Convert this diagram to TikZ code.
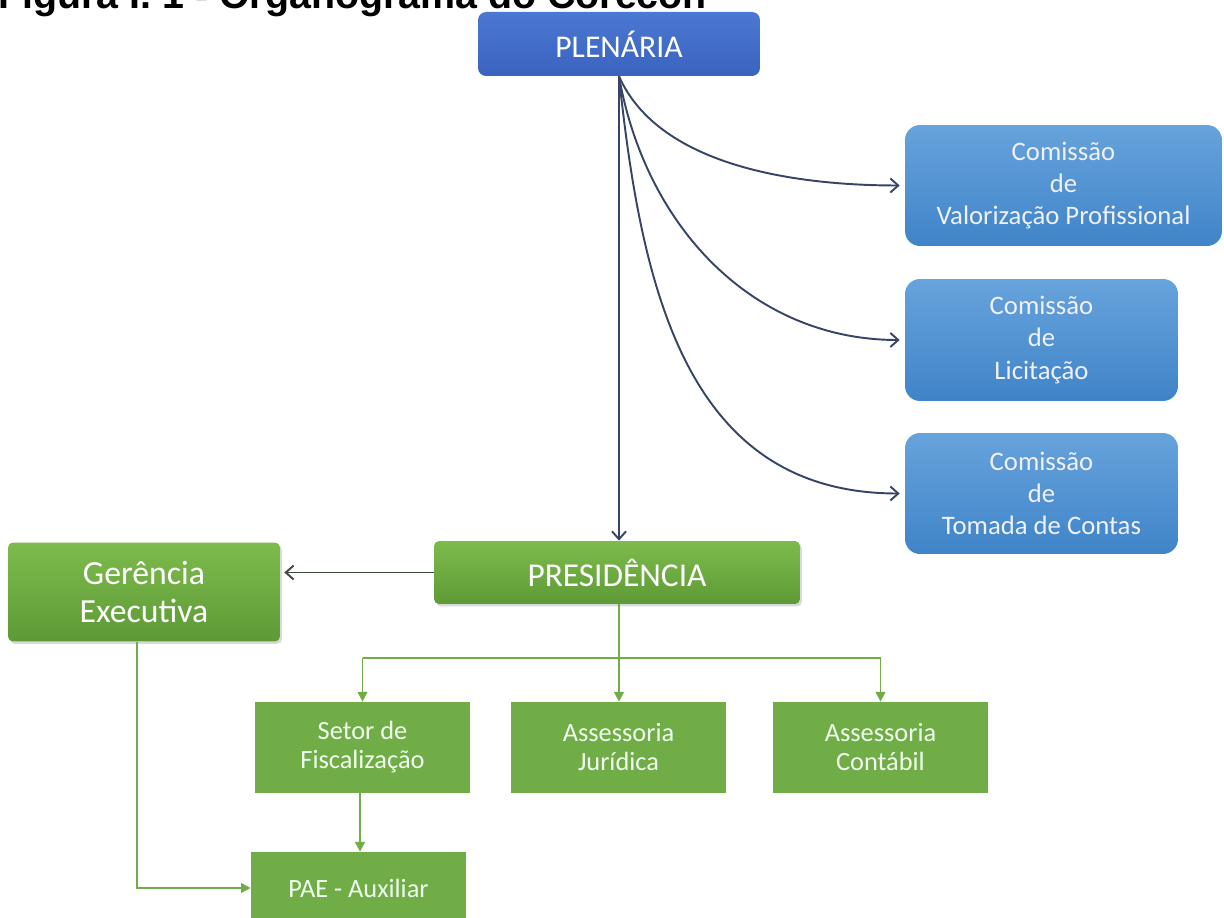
\documentclass[tikz,border=0pt]{standalone}
\usepackage{fontspec}
\setmainfont{Carlito}
\newfontfamily\titlefont{Liberation Sans}
\usetikzlibrary{arrows.meta,shadows}
\definecolor{azulA}{HTML}{4B78D2}
\definecolor{azulB}{HTML}{3A63BE}
\definecolor{celA}{HTML}{67A3DC}
\definecolor{celB}{HTML}{3F84C8}
\definecolor{verdeA}{HTML}{7DBB4D}
\definecolor{verdeB}{HTML}{5E9A35}
\definecolor{verde}{HTML}{70AD47}
\definecolor{marinho}{HTML}{364468}
\definecolor{cinza}{HTML}{3F4A3F}
\tikzset{
	plenbox/.style={rounded corners=0.16cm, top color=azulA, bottom color=azulB, text=white, font=\fontsize{18}{21}\selectfont},
	combox/.style={rounded corners=0.3cm, top color=celA, bottom color=celB, text=white!94!blue, align=center, font=\fontsize{15.2}{18.4}\selectfont},
	presbox/.style={rounded corners=0.1cm, top color=verdeA, bottom color=verdeB, text=white, align=center, drop shadow={opacity=0.3,shadow xshift=0.04cm,shadow yshift=-0.05cm}},
	setbox/.style={fill=verde, text=white!94!green, align=center, font=\fontsize{15}{16.5}\selectfont, minimum width=4.3cm},
	seta/.style={draw=marinho, line width=1.1pt, -{Straight Barb[length=4.5pt,width=8pt]}},
	gseta/.style={draw=verde, line width=1.1pt, -{Triangle[length=5.5pt,width=5.5pt]}},
	glinha/.style={draw=verde, line width=1.1pt}
}
\begin{document}
\begin{tikzpicture}[x=0.02cm, y=-0.02cm]
	\useasboundingbox (0,0) rectangle (1224,918);
	% Titulo
		\node[anchor=base west, inner sep=0, font=\titlefont\bfseries\fontsize{22.4}{24}\selectfont] (titulo) at (-2,9) {Figura I. 1 - Organograma do Corecon};
	% Caixas azuis
		\node[plenbox, minimum width=5.64cm, minimum height=1.28cm] (plen) at (619,44) {PLENÁRIA};
		\node[combox, minimum width=6.34cm, minimum height=2.42cm] (comval) at (1063.5,185.5) {Comissão\\de\\Valorização Profissional};
		\node[combox, minimum width=5.46cm, minimum height=2.44cm] (comlic) at (1041.5,340) {Comissão\\de\\Licitação};
		\node[combox, minimum width=5.46cm, minimum height=2.42cm] (comtom) at (1041.5,493.5) {Comissão\\de\\Tomada de Contas};
	% Caixas verdes
		\node[presbox, minimum width=7.32cm, minimum height=1.26cm, font=\fontsize{19}{21}\selectfont] (pres) at (617,572.5) {PRESIDÊNCIA};
		\node[presbox, minimum width=5.44cm, minimum height=1.98cm, font=\fontsize{19.2}{21.8}\selectfont] (ger) at (144,592) {Gerência\\Executiva};
		\node[setbox, minimum height=1.82cm] (setor) at (362.5,747.5) {Setor de\\Fiscalização};
		\node[setbox, minimum height=1.82cm] (jur) at (618.5,747.5) {Assessoria\\Jurídica};
		\node[setbox, minimum height=1.82cm] (cont) at (880.5,747.5) {Assessoria\\Contábil};
		\node[setbox, minimum height=1.44cm] (pae) at (358.5,888) {PAE - Auxiliar};
	% Setas da plenaria
		\draw[seta] (plen.south) -- (plen.south |- pres.north);
		\draw[seta, shorten >=0.1cm] (plen.south) to[out=-66, in=180, looseness=0.85] (comval.west);
		\draw[seta, shorten >=0.1cm] (plen.south) to[out=-80, in=180] (comlic.west);
		\draw[seta, shorten >=0.1cm] (plen.south) to[out=-84, in=180, looseness=1.1] (comtom.west);
	% Setas da presidencia
		\draw[draw=cinza, line width=1.1pt, -{Straight Barb[length=4.5pt,width=8pt]}, shorten >=0.08cm] (pres.west) -- (pres.west -| ger.east);
		\coordinate (barra) at (620,658);
		\draw[gseta] ([xshift=0.04cm]pres.south) -- ([xshift=0.04cm]pres.south |- jur.north);
		\draw[glinha] (barra -| setor.north) -- (barra -| cont.north);
		\draw[gseta] (barra -| setor.north) -- (setor.north);
		\draw[gseta] (barra -| cont.north) -- (cont.north);
		\draw[gseta] ([xshift=-0.05cm]setor.south) -- ([xshift=-0.05cm]setor.south |- pae.north);
		\draw[gseta] ([xshift=-0.14cm]ger.south) |- (pae.west);
\end{tikzpicture}
\end{document}
